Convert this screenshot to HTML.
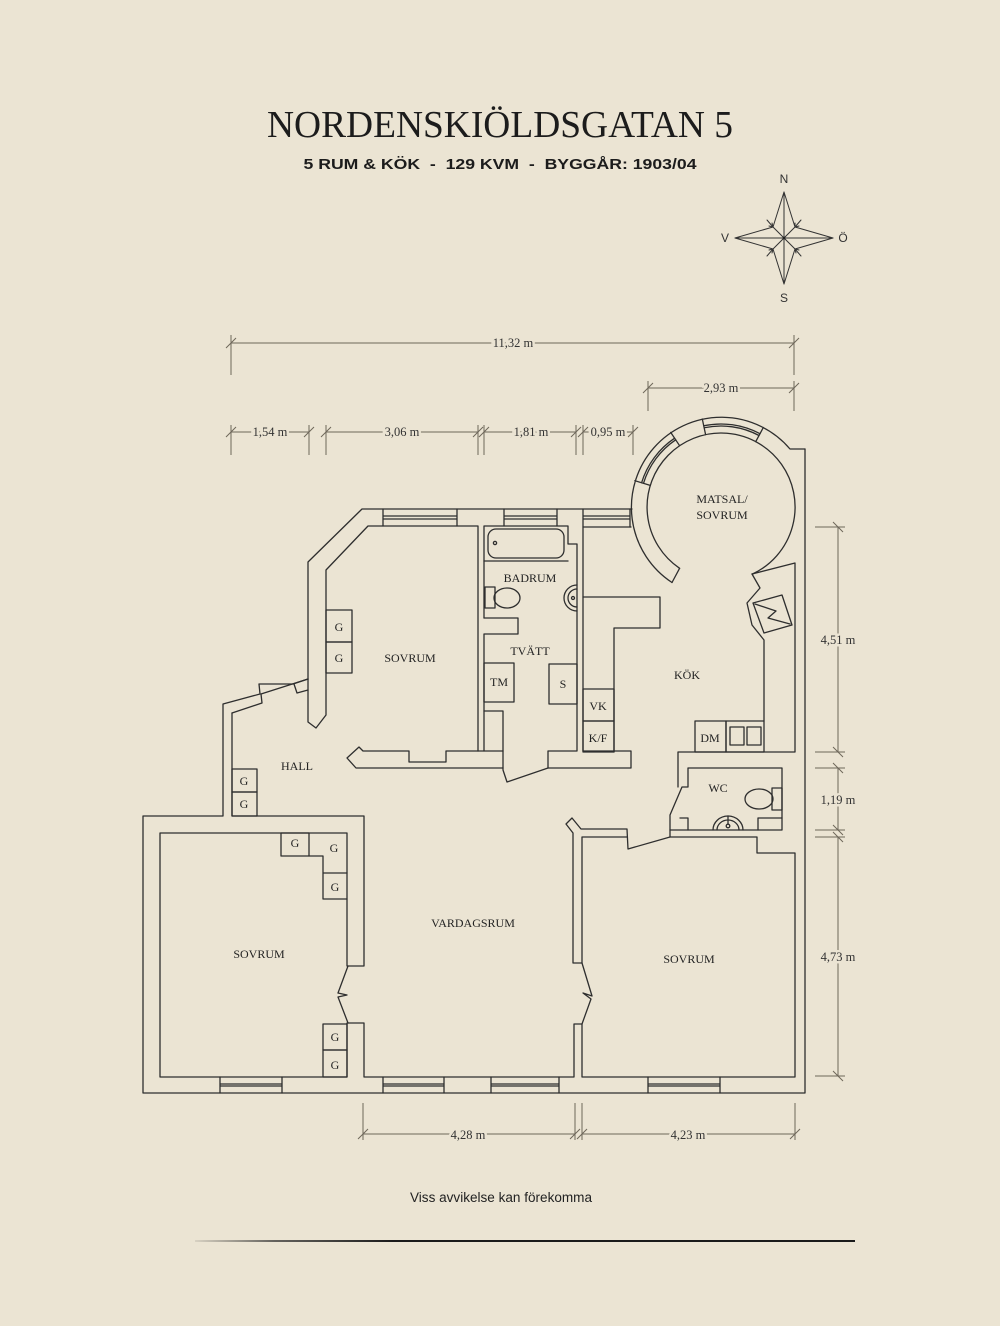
<!DOCTYPE html>
<html><head><meta charset="utf-8"><style>
html,body{margin:0;padding:0;background:#ebe4d3;}
svg{display:block}
.w{fill:none;stroke:#2e2e2e;stroke-width:1.3;stroke-linejoin:round;stroke-linecap:round}
.d{fill:none;stroke:#6e675a;stroke-width:1}
.lb{font-family:"Liberation Serif",serif;font-size:12px;fill:#222;text-anchor:middle}
.dl{font-family:"Liberation Serif",serif;font-size:12.5px;fill:#333;text-anchor:middle;stroke:#ebe4d3;stroke-width:5;paint-order:stroke}
.cp{font-family:"Liberation Sans",sans-serif;font-size:12px;fill:#333;text-anchor:middle}
</style></head><body>
<svg width="1000" height="1326" viewBox="0 0 1000 1326" xmlns="http://www.w3.org/2000/svg">
<rect width="1000" height="1326" fill="#ebe4d3"/>
<text x="500" y="137" font-family="'Liberation Serif',serif" font-size="38" fill="#1c1c1c" text-anchor="middle" textLength="466" lengthAdjust="spacingAndGlyphs">NORDENSKIÖLDSGATAN 5</text>
<text x="500" y="169" font-family="'Liberation Sans',sans-serif" font-weight="bold" font-size="14.5" fill="#1c1c1c" text-anchor="middle" textLength="393" lengthAdjust="spacingAndGlyphs" xml:space="preserve">5 RUM &amp; KÖK  -  129 KVM  -  BYGGÅR: 1903/04</text>

<!-- compass -->
<g class="w" style="stroke:#333;stroke-width:1">
<polygon points="784,192 795,227 833,238 795,249 784,284 773,249 735,238 773,227"/>
<line x1="784" y1="192" x2="784" y2="284"/><line x1="735" y1="238" x2="833" y2="238"/>
<line x1="784" y1="238" x2="773" y2="227"/><line x1="784" y1="238" x2="795" y2="227"/>
<line x1="784" y1="238" x2="773" y2="249"/><line x1="784" y1="238" x2="795" y2="249"/>
<line x1="773" y1="227" x2="767" y2="220"/><line x1="795" y1="227" x2="801" y2="220"/>
<line x1="773" y1="249" x2="767" y2="256"/><line x1="795" y1="249" x2="801" y2="256"/>
<polyline points="769,226 773,227 772,223"/><polyline points="795,223 795,227 799,226"/>
<polyline points="769,250 773,249 772,253"/><polyline points="796,253 795,249 799,250"/>
</g>
<circle cx="784" cy="238" r="1.3" fill="#222"/>
<text class="cp" x="784" y="183">N</text>
<text class="cp" x="784" y="302">S</text>
<text class="cp" x="725" y="242">V</text>
<text class="cp" x="843" y="242">Ö</text>

<!-- dimension lines -->
<g class="d">
<line x1="231" y1="343" x2="794" y2="343"/>
<line x1="231" y1="335" x2="231" y2="375"/><line x1="794" y1="335" x2="794" y2="375"/>
<line x1="226" y1="348" x2="236" y2="338"/><line x1="789" y1="348" x2="799" y2="338"/>
<line x1="648" y1="388" x2="794" y2="388"/>
<line x1="648" y1="381" x2="648" y2="411"/><line x1="794" y1="381" x2="794" y2="411"/>
<line x1="643" y1="393" x2="653" y2="383"/><line x1="789" y1="393" x2="799" y2="383"/>
<line x1="231" y1="432" x2="309" y2="432"/><line x1="326" y1="432" x2="478" y2="432"/>
<line x1="484" y1="432" x2="576" y2="432"/><line x1="583" y1="432" x2="633" y2="432"/>
<g>
<line x1="231" y1="425" x2="231" y2="455"/><line x1="309" y1="425" x2="309" y2="455"/>
<line x1="326" y1="425" x2="326" y2="455"/><line x1="478" y1="425" x2="478" y2="455"/>
<line x1="484" y1="425" x2="484" y2="455"/><line x1="576" y1="425" x2="576" y2="455"/>
<line x1="583" y1="425" x2="583" y2="455"/><line x1="633" y1="425" x2="633" y2="455"/>
<line x1="226" y1="437" x2="236" y2="427"/><line x1="304" y1="437" x2="314" y2="427"/>
<line x1="321" y1="437" x2="331" y2="427"/><line x1="473" y1="437" x2="483" y2="427"/>
<line x1="479" y1="437" x2="489" y2="427"/><line x1="571" y1="437" x2="581" y2="427"/>
<line x1="578" y1="437" x2="588" y2="427"/><line x1="628" y1="437" x2="638" y2="427"/>
</g>
<line x1="838" y1="527" x2="838" y2="752"/><line x1="838" y1="768" x2="838" y2="830"/><line x1="838" y1="837" x2="838" y2="1076"/>
<line x1="815" y1="527" x2="845" y2="527"/><line x1="815" y1="752" x2="845" y2="752"/>
<line x1="815" y1="768" x2="845" y2="768"/><line x1="815" y1="830" x2="845" y2="830"/>
<line x1="815" y1="837" x2="845" y2="837"/><line x1="815" y1="1076" x2="845" y2="1076"/>
<line x1="833" y1="522" x2="843" y2="532"/><line x1="833" y1="747" x2="843" y2="757"/>
<line x1="833" y1="763" x2="843" y2="773"/><line x1="833" y1="825" x2="843" y2="835"/>
<line x1="833" y1="832" x2="843" y2="842"/><line x1="833" y1="1071" x2="843" y2="1081"/>
<line x1="363" y1="1134" x2="575" y2="1134"/><line x1="582" y1="1134" x2="795" y2="1134"/>
<line x1="363" y1="1103" x2="363" y2="1140"/><line x1="575" y1="1103" x2="575" y2="1140"/>
<line x1="582" y1="1103" x2="582" y2="1140"/><line x1="795" y1="1103" x2="795" y2="1140"/>
<line x1="358" y1="1139" x2="368" y2="1129"/><line x1="570" y1="1139" x2="580" y2="1129"/>
<line x1="577" y1="1139" x2="587" y2="1129"/><line x1="790" y1="1139" x2="800" y2="1129"/>
</g>
<text class="dl" x="513" y="347">11,32 m</text>
<text class="dl" x="721" y="392">2,93 m</text>
<text class="dl" x="270" y="436">1,54 m</text>
<text class="dl" x="402" y="436">3,06 m</text>
<text class="dl" x="531" y="436">1,81 m</text>
<text class="dl" x="608" y="436">0,95 m</text>
<text class="dl" x="838" y="644">4,51 m</text>
<text class="dl" x="838" y="804">1,19 m</text>
<text class="dl" x="838" y="961">4,73 m</text>
<text class="dl" x="468" y="1139">4,28 m</text>
<text class="dl" x="688" y="1139">4,23 m</text>

<!-- walls -->
<g class="w">
<!-- top wall & upper-left sovrum -->
<path d="M632,509 L362,509 L308,562 L308,722 L316,728 L326,715 L326,570 L368,526 L478,526 L478,751"/>
<path d="M383,509 V526 M457,509 V526 M383,516 H457 M383,519 H457"/>
<path d="M504,509 V526 M557,509 V526 M504,516 H557 M504,519 H557"/>
<path d="M583,509 V527 M630,509 V527 M583,516 H630 M583,519 H630"/>
<!-- bathroom / tvätt -->
<path d="M484,618 L484,526 L568,526 L568,544 L577,544 L577,751 L548,751 L548,768 L631,768 L631,751 L583,751 L583,527 L631,527"/>
<path d="M484,618 L518,618 L518,634 L484,634 L484,751"/>
<path d="M484,711 L503,711 L503,770 L507,782 L548,768"/>
<path d="M478,751 L503,751"/>
<path d="M484,561 L568,561"/>
<rect x="488" y="529" width="76" height="29" rx="8"/>
<circle cx="495" cy="543" r="1.6"/>
<rect x="485" y="587" width="10" height="21"/>
<ellipse cx="507" cy="598" rx="13" ry="10"/>
<path d="M577,585 A13,13 0 0 0 577,611"/>
<path d="M577,589 A9,9 0 0 0 577,607"/>
<circle cx="573" cy="598" r="1.5"/>
<rect x="484" y="663" width="30" height="39"/>
<rect x="549" y="664" width="28" height="40"/>
<!-- sovrum bottom -->
<path d="M478,751 L446,751 L446,762 L409,762 L409,751 L363,751 L359,747 L347,758 L356,768 L503,768"/>
<rect x="326" y="610" width="26" height="32"/>
<rect x="326" y="642" width="26" height="31"/>
<!-- kitchen -->
<path d="M583,597 L660,597 L660,628 L614,628 L614,752"/>
<rect x="583" y="689" width="31" height="32"/>
<rect x="583" y="721" width="31" height="31"/>
<path d="M678,787 L678,752 L795,752 L795,563 L752,574"/>
<rect x="695" y="721" width="31" height="31"/>
<rect x="726" y="721" width="38" height="31"/>
<rect x="730" y="727" width="14" height="18"/>
<rect x="747" y="727" width="14" height="18"/>
<path d="M764,721 L764,640 L752,625 L747,603 L760,588 L752,574"/>
<polygon points="753,603 782,595 792,625 764,633"/>
<polyline points="755,604 776,611 768,618 790,624"/>
<!-- circle -->
<path d="M672,582.5 A90,90 0 1 1 790,449 L805,449"/>
<path d="M679.6,568.3 A74,74 0 1 1 752.3,574.1"/>
<path d="M672,582.5 L679.6,568.3"/>
<path d="M650.2,485.4 L634.9,480.7 M679.6,445.7 L670.7,432.4 M705.6,434.6 L702.3,419.0 M755.7,441.7 L763.3,427.5"/>
<path d="M643.5,483.3 A81,81 0 0 1 675.7,439.8 M641.6,482.7 A83,83 0 0 1 674.6,438.2"/>
<path d="M704.2,427.8 A81,81 0 0 1 759.0,435.5 M703.7,425.8 A83,83 0 0 1 760.0,433.7"/>
<!-- WC -->
<path d="M688,787 L688,768 L782,768 L782,830 L670,830 L670,815 L682,787 L688,787"/>
<path d="M680,818 L688,818 L688,830 M758,830 L758,818 L782,818"/>
<path d="M713,830 A15,14 0 0 1 743,830"/>
<path d="M717,830 A11,10 0 0 1 739,830"/>
<circle cx="728" cy="826" r="1.8"/>
<line x1="728" y1="816" x2="728" y2="824"/>
<rect x="772" y="788" width="10" height="22"/>
<ellipse cx="759" cy="799" rx="14" ry="10"/>
<!-- outer right, bottom, left -->
<path d="M805,449 L805,1093 L143,1093 L143,816 L223,816 L223,704 L260,694 L259,684 L293,684 L308,679"/>
<path d="M232,713 L262,703 L261,694 L308,679"/>
<path d="M294,684 L297,693 L308,690"/>
<path d="M232,713 L232,816 L364,816 L364,966 L347,966 L347,833 L160,833 L160,1077 L347,1077 L347,1023 L364,1023 L364,1077 L574,1077 L574,1024 L582,1024 L582,1077 L795,1077 L795,853 L757,853 L757,837 L670,837 L628,849 L627,829 L581,829 L572,818 L566,824 L573,833 L573,963 L582,963 L582,837 L627,837"/>
<path d="M670,830 L670,837"/>
<!-- door zigzags -->
<path d="M348,966 L338,993 L347,995 L338,997 L348,1023"/>
<path d="M582,963 L592,996 L583,993 L591,999 L582,1024"/>
<!-- hall G -->
<rect x="232" y="769" width="25" height="23"/>
<rect x="232" y="792" width="25" height="24"/>
<!-- left sovrum G -->
<rect x="281" y="833" width="28" height="23"/>
<path d="M309,856 L323,856 L323,899 L347,899 M323,873 L347,873"/>
<rect x="323" y="1024" width="24" height="26"/>
<rect x="323" y="1050" width="24" height="27"/>
<!-- bottom windows -->
<path d="M220,1077 V1093 M282,1077 V1093 M220,1084 H282 M220,1086 H282"/>
<path d="M383,1077 V1093 M444,1077 V1093 M383,1084 H444 M383,1086 H444"/>
<path d="M491,1077 V1093 M559,1077 V1093 M491,1084 H559 M491,1086 H559"/>
<path d="M648,1077 V1093 M720,1077 V1093 M648,1084 H720 M648,1086 H720"/>
</g>

<!-- room labels -->
<text class="lb" x="722" y="503">MATSAL/</text>
<text class="lb" x="722" y="519">SOVRUM</text>
<text class="lb" x="530" y="582">BADRUM</text>
<text class="lb" x="410" y="662">SOVRUM</text>
<text class="lb" x="530" y="655">TVÄTT</text>
<text class="lb" x="499" y="686">TM</text>
<text class="lb" x="563" y="688">S</text>
<text class="lb" x="598" y="710">VK</text>
<text class="lb" x="598" y="742">K/F</text>
<text class="lb" x="710" y="742">DM</text>
<text class="lb" x="687" y="679">KÖK</text>
<text class="lb" x="718" y="792">WC</text>
<text class="lb" x="297" y="770">HALL</text>
<text class="lb" x="259" y="958">SOVRUM</text>
<text class="lb" x="473" y="927">VARDAGSRUM</text>
<text class="lb" x="689" y="963">SOVRUM</text>
<text class="lb" x="339" y="631">G</text>
<text class="lb" x="339" y="662">G</text>
<text class="lb" x="244" y="785">G</text>
<text class="lb" x="244" y="808">G</text>
<text class="lb" x="295" y="847">G</text>
<text class="lb" x="334" y="852">G</text>
<text class="lb" x="335" y="891">G</text>
<text class="lb" x="335" y="1041">G</text>
<text class="lb" x="335" y="1069">G</text>

<text x="501" y="1202" font-family="'Liberation Sans',sans-serif" font-size="13.5" fill="#222" text-anchor="middle" textLength="182" lengthAdjust="spacingAndGlyphs">Viss avvikelse kan förekomma</text>
<defs><linearGradient id="lg" x1="0" x2="1"><stop offset="0" stop-color="#2a2a2a" stop-opacity="0.1"/><stop offset="0.12" stop-color="#2a2a2a" stop-opacity="0.7"/><stop offset="0.3" stop-color="#1a1a1a" stop-opacity="1"/><stop offset="1" stop-color="#1a1a1a" stop-opacity="1"/></linearGradient></defs>
<rect x="195" y="1240" width="660" height="2" fill="url(#lg)"/>
</svg>
</body></html>
